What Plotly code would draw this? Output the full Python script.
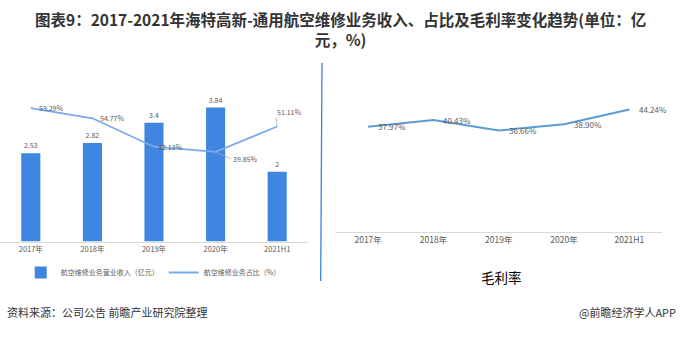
import plotly.graph_objects as go

years = ["2017年", "2018年", "2019年", "2020年", "2021H1"]
revenue = [2.53, 2.82, 3.4, 3.84, 2]
share = [59.29, 54.77, 42.13, 39.85, 51.11]
margin = [37.97, 40.43, 36.66, 38.90, 44.24]

W, H = 681, 337
BAR = "#3F86E0"
LINE1 = "#7BA9EE"
LINE2 = "#5B9BD5"
TXT = "#595959"
FONT = "Noto Sans CJK SC"

fig = go.Figure()
fig.add_trace(go.Bar(
    x=years, y=revenue, name="航空维修业务营业收入（亿元）",
    marker=dict(color=BAR, line=dict(width=0)),
    text=[str(v) for v in revenue], textposition="outside",
    textfont=dict(size=7, color=TXT, family=FONT), cliponaxis=False,
    xaxis="x", yaxis="y",
))
fig.add_trace(go.Scatter(
    x=years, y=share, name="航空维修业务占比（%）", mode="lines",
    line=dict(color=LINE1, width=1.8),
    xaxis="x", yaxis="y2",
))
fig.add_trace(go.Scatter(
    x=years, y=margin, mode="lines", showlegend=False,
    line=dict(color=LINE2, width=2),
    xaxis="x2", yaxis="y3",
))

# labels for gross margin line
for i, v in enumerate(margin):
    fig.add_annotation(
        x=years[i], y=v, xref="x2", yref="y3", text=f"{v:.2f}%",
        showarrow=False, xanchor="left", yanchor="middle", xshift=8, yshift=0,
        font=dict(size=8, color=TXT, family=FONT),
    )

# labels for share line
offsets = [(6, 0, False), (6, 0, False), (2, 0, False), (15, 7, True), (-2, -15, True)]
for i, (dx, dy, arrow) in enumerate(offsets):
    lbl = f"{share[i]:.2f}%"
    if arrow:
        fig.add_annotation(
            x=years[i], y=share[i], xref="x", yref="y2", text=lbl,
            showarrow=True, arrowhead=0, arrowwidth=0.8, arrowcolor="#A6A6A6",
            ax=dx, ay=dy, xanchor="left", yanchor="middle",
            font=dict(size=7, color=TXT, family=FONT), standoff=0,
        )
    else:
        fig.add_annotation(
            x=years[i], y=share[i], xref="x", yref="y2", text=lbl,
            showarrow=False, xanchor="left", yanchor="middle", xshift=dx, yshift=dy,
            font=dict(size=7, color=TXT, family=FONT),
        )

def py(pix):
    return (H - pix) / H

fig.update_layout(
    width=W, height=H, margin=dict(l=0, r=0, t=0, b=0),
    paper_bgcolor="white", plot_bgcolor="white",
    font=dict(family=FONT, color=TXT),
    bargap=0.69, showlegend=True,
    legend=dict(orientation="h", x=0.225, xanchor="center", y=py(258), yanchor="top",
                font=dict(size=7, color=TXT), itemwidth=30, tracegroupgap=0,
                bgcolor="rgba(0,0,0,0)"),
    xaxis=dict(domain=[0.0, 308 / W], range=[-0.5, 4.5], showgrid=False, showline=True,
               linecolor="#D9D9D9", linewidth=1, ticks="",
               tickfont=dict(size=7.5, color=TXT), anchor="y"),
    yaxis=dict(domain=[py(241.5), py(66)], range=[0, 5.03], visible=False, showgrid=False),
    yaxis2=dict(overlaying="y", range=[0, 78], visible=False, showgrid=False),
    xaxis2=dict(domain=[335.5 / W, 662 / W], range=[-0.5, 4.5], showgrid=False, showline=True,
                linecolor="#D9D9D9", linewidth=1, ticks="",
                tickfont=dict(size=8.5, color=TXT), anchor="y3"),
    yaxis3=dict(domain=[py(231.7), py(66)], range=[0, 60], visible=False, anchor="x2",
                showgrid=False),
)

fig.add_shape(type="line", xref="paper", yref="paper", x0=322 / W, x1=320.7 / W,
              y0=py(63), y1=py(281), line=dict(color="#3B82E6", width=1.3))

fig.add_annotation(
    xref="paper", yref="paper", x=0.5, y=py(6), xanchor="center", yanchor="top",
    text="<b>图表9：2017-2021年海特高新-通用航空维修业务收入、占比及毛利率变化趋势(单位：亿<br>元，%)</b>",
    showarrow=False, font=dict(size=15.5, color="#333333", family=FONT), align="center",
)
fig.add_annotation(
    xref="paper", yref="paper", x=502 / W, y=py(277), xanchor="center", yanchor="middle",
    text="毛利率", showarrow=False, font=dict(size=13.5, color="#000000", family=FONT),
)
fig.add_annotation(
    xref="paper", yref="paper", x=5 / W, y=py(312), xanchor="left", yanchor="middle",
    text="资料来源：公司公告 前瞻产业研究院整理", showarrow=False,
    font=dict(size=11, color="#333333", family=FONT),
)
fig.add_annotation(
    xref="paper", yref="paper", x=678 / W, y=py(312), xanchor="right", yanchor="middle",
    text="@前瞻经济学人APP", showarrow=False,
    font=dict(size=11, color="#333333", family=FONT),
)

fig.write_html("out.html")
